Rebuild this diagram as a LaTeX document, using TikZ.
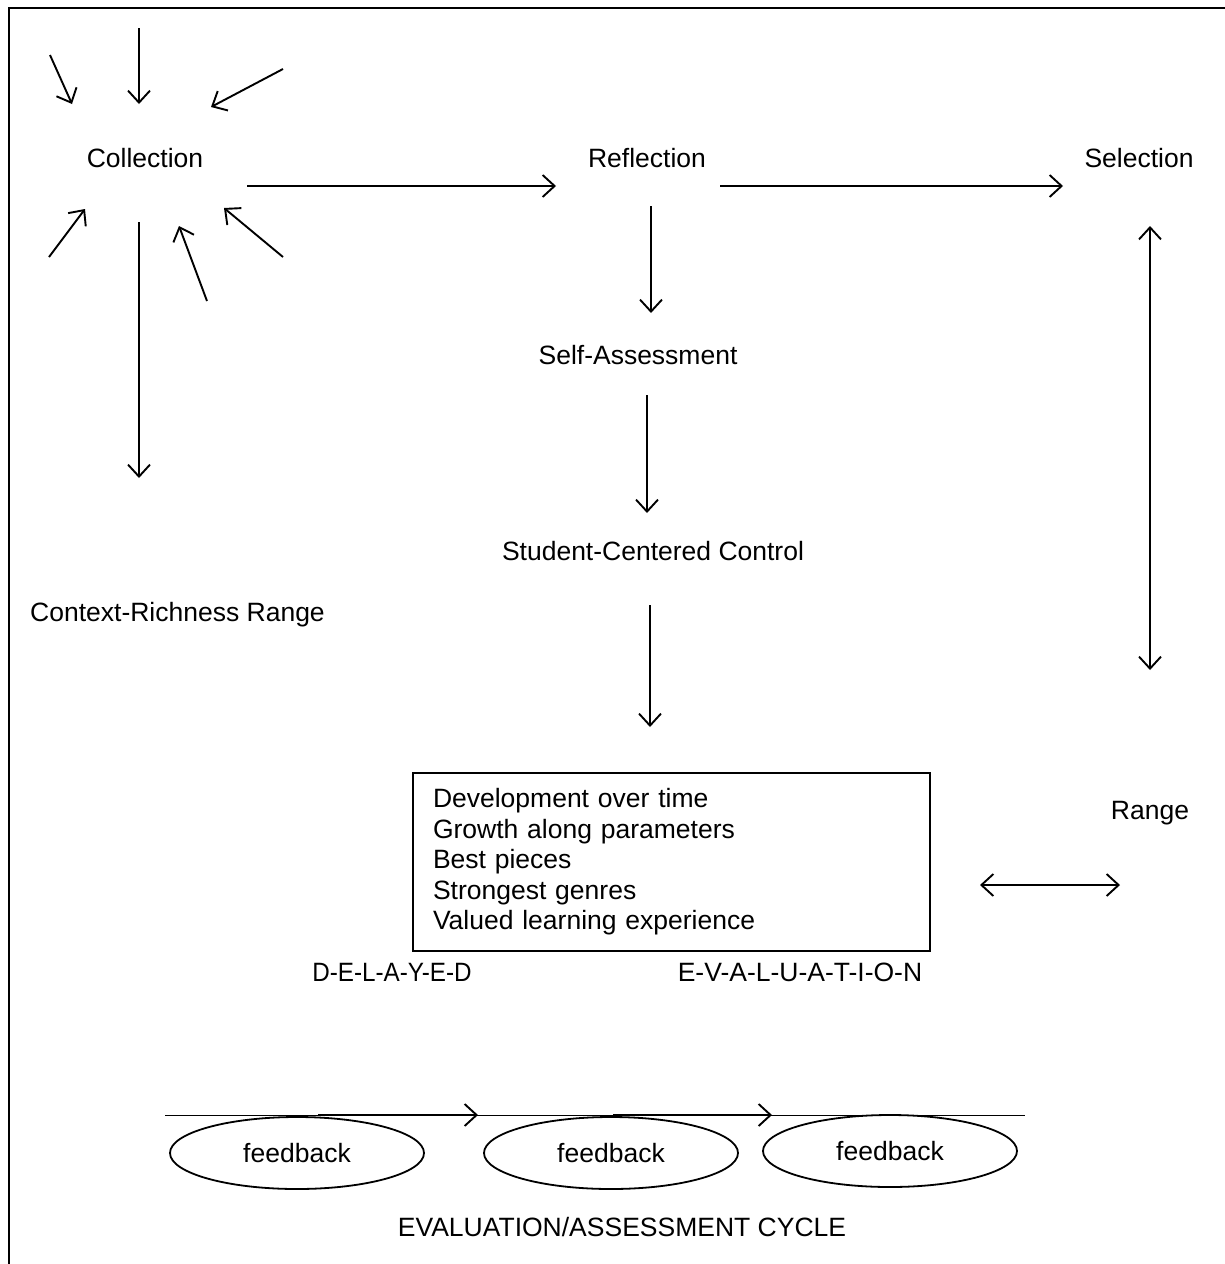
\documentclass[tikz,border=0pt]{standalone}
\usepackage{fontspec}
\setmainfont{Liberation Sans}
\usetikzlibrary{arrows.meta,shapes.geometric}
\begin{document}
\begin{tikzpicture}[x=1pt,y=-1pt,
  every node/.style={font=\fontsize{26.5}{30.5}\selectfont, inner sep=0pt},
  lbl/.style={anchor=base},
  arr/.style={line width=1.9pt, -{Straight Barb[length=12pt,width=22pt,line width=1.9pt]}},
  darr/.style={line width=1.9pt, {Straight Barb[length=12pt,width=22pt,line width=1.9pt]}-{Straight Barb[length=12pt,width=22pt,line width=1.9pt]}},
  fb/.style={draw, ellipse, line width=1.8pt, minimum width=254pt, minimum height=72pt},
  thin/.style={line width=1pt}]
\useasboundingbox (0,0) rectangle (1225,1264);
% border (top and left)
\coordinate (bl) at (9,1264);
\coordinate (tl) at (9,8);
\coordinate (tr) at (1225,8);
\draw[line width=2pt] (bl) -- (tl) -- (tr);

% text nodes
\node[lbl] (coll) at (145,167.5) {Collection};
\node[lbl] (refl) at (647,167.5) {Reflection};
\node[lbl] (sel) at (1139,167.5) {Selection};
\node[lbl] (self) at (638,364.5) {Self-Assessment};
\node[lbl] (scc) at (653,560.5) {Student-Centered Control};
\node[lbl] (ctx) at (177.5,621.5) {Context-Richness Range};
\node[lbl] (range) at (1150,819.5) {Range};
\node[lbl, xscale=0.915] (delayed) at (392,981.5) {D-E-L-A-Y-E-D};
\node[lbl] (evaln) at (800,981.5) {E-V-A-L-U-A-T-I-O-N};
\node[lbl] (cycle) at (622,1236.5) {EVALUATION/ASSESSMENT CYCLE};

% box
\node[draw, line width=1.3pt, inner xsep=20pt, text width=477pt, align=left,
      minimum height=178pt, font=\fontsize{26.5}{30.5}\selectfont] (box) at (671.5,862)
  {Development over time\\Growth along parameters\\Best pieces\\Strongest genres\\Valued learning experience};

% radiating arrows into Collection
\coordinate (r1s) at (50,55);   \coordinate (r1e) at (72,104);
\coordinate (r2s) at (139,28);  \coordinate (r2e) at (139,104);
\coordinate (r3s) at (283,69);  \coordinate (r3e) at (211,107);
\coordinate (r4s) at (49,257);  \coordinate (r4e) at (85,209);
\coordinate (r5s) at (207,301); \coordinate (r5e) at (179,226);
\coordinate (r6s) at (283,257); \coordinate (r6e) at (224,208);
\foreach \i in {1,...,6} \draw[arr] (r\i s) -- (r\i e);

% main arrows
\coordinate (cdown1) at (139,222); \coordinate (cdown2) at (139,478);
\draw[arr] (cdown1) -- (cdown2);
\coordinate (cr1) at (247,186); \coordinate (cr2) at (556,186);
\draw[arr] (cr1) -- (cr2);
\coordinate (rs1) at (720,186); \coordinate (rs2) at (1063,186);
\draw[arr] (rs1) -- (rs2);
\coordinate (rd1) at (651,206); \coordinate (rd2) at (651,313);
\draw[arr] (rd1) -- (rd2);
\coordinate (sd1) at (647,395); \coordinate (sd2) at (647,513);
\draw[arr] (sd1) -- (sd2);
\coordinate (cd1) at (650,605); \coordinate (cd2) at (650,727);
\draw[arr] (cd1) -- (cd2);
\coordinate (seld1) at (1150,226); \coordinate (seld2) at (1150,670);
\draw[darr] (seld1) -- (seld2);
\coordinate (rg1) at (980,885); \coordinate (rg2) at (1120,885);
\draw[darr] (rg1) -- (rg2);

% feedback cycle
\node[fb] (fb1) at (297,1153) {};
\node[lbl] (fbt1) at (297,1162.5) {feedback};
\node[fb] (fb2) at (611,1153) {};
\node[lbl] (fbt2) at (611,1162.5) {feedback};
\node[fb] (fb3) at (890,1151) {};
\node[lbl] (fbt3) at (890,1160.5) {feedback};
\coordinate (ln1) at (165,1115); \coordinate (ln2) at (1025,1115);
\draw[thin] (ln1) -- (ln2);
\coordinate (ca1) at (318,1115); \coordinate (ca2) at (478,1115);
\draw[arr] (ca1) -- (ca2);
\coordinate (cb1) at (613,1115); \coordinate (cb2) at (772,1115);
\draw[arr] (cb1) -- (cb2);
\end{tikzpicture}
\end{document}
